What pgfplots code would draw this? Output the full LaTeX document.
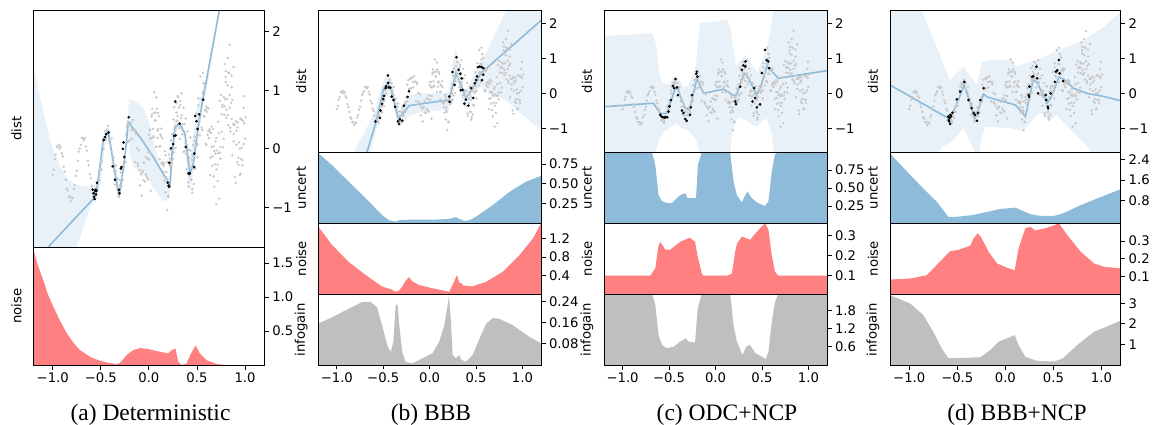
\documentclass[border=0pt]{standalone}
\usepackage{fontspec}
\setmainfont{DejaVu Sans}
\newfontfamily\capfont{Liberation Serif}
\usepackage{pgfplots}
\usepackage{pgfplotstable}
\pgfplotsset{compat=1.18}

\definecolor{bandc}{RGB}{233,241,248}
\definecolor{meanc}{RGB}{143,187,218}
\definecolor{uncc}{RGB}{143,187,218}
\definecolor{noisec}{RGB}{255,128,128}
\definecolor{infoc}{RGB}{191,191,191}
\definecolor{grayc}{RGB}{200,200,200}

\pgfplotsset{
  base/.style={scale only axis, xmin=-1.2, xmax=1.2, clip=true, axis on top,
    axis line style={line width=0.9pt},
    every tick/.style={black, line width=0.9pt},
    major tick length=4.5pt, tick align=outside,
    ytick pos=right, yticklabel pos=right, xtick=\empty,
    tick label style={font=\fontsize{13.2}{15}\selectfont},
    every axis y label/.style={at={(rel axis cs:0,0.5)}, xshift=-17pt, rotate=90, anchor=center,
      font=\fontsize{13.2}{15}\selectfont}},
  bottomx/.style={xtick={-1,-0.5,0,0.5,1}, xticklabels={−1.0,−0.5,0.0,0.5,1.0}, xtick pos=left, xticklabel pos=left},
  distax/.style={base, ymin=-1.68, ymax=2.37, ytick={-1,0,1,2}, yticklabels={−1,0,1,2}, ylabel={dist}},
  band/.style={fill=bandc, draw=none},
  meanl/.style={color=meanc, line width=1.6pt},
  train/.style={only marks, mark=*, mark size=1.1pt, black},
  test/.style={only marks, mark=*, mark size=1.0pt, color=grayc},
}

% test points shared by all four panels
\pgfplotstableread{
x y
-1.0000 -0.450
-0.9896 -0.358
-0.9792 -0.180
-0.9688 -0.098
-0.9583 0.037
-0.9479 0.028
-0.9375 0.071
-0.9271 0.002
-0.9167 0.038
-0.9063 -0.076
-0.8958 -0.127
-0.8854 -0.305
-0.8750 -0.389
-0.8646 -0.529
-0.8542 -0.683
-0.8438 -0.720
-0.8333 -0.821
-0.8229 -0.812
-0.8125 -0.897
-0.8021 -0.842
-0.7917 -0.844
-0.7813 -0.686
-0.7708 -0.616
-0.7604 -0.464
-0.7500 -0.378
-0.7396 -0.207
-0.7292 -0.049
-0.7188 0.005
-0.7083 0.068
-0.6979 0.186
-0.6875 0.184
-0.6771 0.144
-0.6667 0.180
-0.6563 0.043
-0.6458 -0.033
-0.6354 -0.208
-0.6250 -0.282
-0.6146 -0.435
-0.6042 -0.499
-0.5938 -0.634
-0.5833 -0.766
-0.5625 -0.742
-0.5545 -0.840
-0.5417 -0.638
-0.5337 -0.701
-0.5208 -0.389
-0.5128 -0.536
-0.5000 -0.228
-0.4920 -0.361
-0.4792 0.087
-0.4712 -0.004
-0.4583 0.301
-0.4503 0.154
-0.4375 0.328
-0.4295 0.293
-0.4167 0.145
-0.4087 0.292
-0.3958 0.055
-0.3878 0.181
-0.3750 -0.228
-0.3670 -0.151
-0.3542 -0.614
-0.3462 -0.289
-0.3333 -0.632
-0.3253 -0.515
-0.3125 -0.781
-0.3045 -0.625
-0.2917 -0.405
-0.2837 -0.639
-0.2708 -0.538
-0.2628 -0.265
-0.2500 -0.110
-0.2420 -0.227
-0.2292 0.384
-0.2212 0.111
-0.2083 0.407
-0.2003 0.147
-0.1875 0.445
-0.1795 0.328
-0.1667 0.491
-0.1587 0.335
-0.1458 -0.226
-0.1378 0.314
-0.1250 0.014
-0.1170 -0.246
-0.1042 -0.027
-0.0962 -0.367
-0.0833 -0.440
-0.0753 -0.800
-0.0625 -0.378
-0.0545 -0.538
-0.0417 -0.562
-0.0337 -0.142
-0.0208 -0.489
-0.0128 -0.169
-0.0070 -0.060
0.0000 0.240
0.0070 -0.185
0.0138 0.325
0.0208 -0.075
0.0278 0.550
0.0347 0.592
0.0417 0.342
0.0487 0.217
0.0555 0.968
0.0625 0.493
0.0695 0.618
0.0763 0.035
0.0833 0.685
0.0903 0.310
0.0972 0.337
0.1042 0.562
0.1112 0.037
0.1180 0.046
0.1250 0.221
0.1320 -0.254
0.1388 0.181
0.1458 -0.269
0.1528 -0.394
0.1597 -0.243
0.1667 -0.043
0.1737 -0.743
0.1805 -0.401
0.1875 -0.526
0.1945 -0.226
0.2013 -0.824
0.2083 -0.099
0.2153 -0.274
0.2222 -0.307
0.2292 0.143
0.2362 -0.207
0.2430 0.253
0.2500 -0.173
0.2570 0.503
0.2638 0.237
0.2708 0.387
0.2778 0.012
0.2847 0.779
0.2917 0.479
0.2987 0.904
0.3055 0.431
0.3125 0.706
0.3195 0.356
0.3263 0.748
0.3333 0.523
0.3403 0.948
0.3472 0.249
0.3542 0.424
0.3612 -0.051
0.3680 0.429
0.3750 0.039
0.3820 0.519
0.3888 -0.352
0.3958 0.068
0.4028 -0.082
0.4097 -0.646
0.4167 -0.016
0.4237 -0.286
0.4305 0.197
0.4375 -0.523
0.4445 -0.193
0.4513 -0.687
0.4583 0.063
0.4653 -0.327
0.4722 0.136
0.4792 -0.344
0.4862 0.016
0.4930 0.605
0.5000 0.065
0.5070 -0.145
0.5138 0.744
0.5208 0.504
0.5278 0.234
0.5347 1.237
0.5417 0.607
0.5487 0.847
0.5555 0.323
0.5625 0.833
0.5695 0.563
0.5763 1.016
0.5833 0.656
0.5903 0.086
0.5972 0.722
0.6042 0.632
0.6112 0.242
0.6180 0.691
0.6250 0.181
0.6320 0.331
0.6388 -0.449
0.6458 0.271
0.6528 0.031
0.6597 -0.293
0.6667 0.337
0.6737 -0.473
0.6805 -0.036
0.6875 -0.267
0.6945 0.129
0.7013 -0.355
0.7083 -0.025
0.7153 -0.553
0.7222 0.464
0.7292 0.266
0.7362 -0.064
0.7430 0.030
0.7500 0.921
0.7570 0.294
0.7638 0.719
0.7708 0.026
0.7778 0.884
0.7847 0.581
0.7917 0.845
0.7987 1.142
0.8055 0.526
0.8125 0.856
0.8195 1.087
0.8263 0.402
0.8333 1.293
0.8403 0.699
0.8472 0.360
0.8542 0.789
0.8612 1.053
0.8680 -0.111
0.8750 0.417
0.8820 0.252
0.8888 0.407
0.8958 -0.484
0.9028 0.473
0.9097 0.069
0.9167 -0.229
0.9237 0.366
0.9305 -0.154
0.9375 0.110
0.9445 -0.451
0.9513 0.516
0.9583 -0.177
0.9653 0.021
0.9722 -0.281
0.9792 0.478
0.9862 0.082
0.9930 0.902
1.0000 0.176
1.0070 0.539
0.8200 1.550
0.8400 1.780
0.7900 1.450
0.5600 1.300
0.5700 1.120
0.8000 1.330
0.8600 1.250
0.8800 1.400
0.7300 -0.850
0.7000 -0.950
0.4500 -0.750
0.1900 -1.050
0.0200 -0.720
-0.5521 -0.797
-0.5313 -0.519
-0.5104 -0.342
-0.4896 -0.205
-0.4688 0.196
-0.4479 0.257
-0.4271 0.393
-0.4063 0.091
-0.3854 -0.046
-0.3646 -0.382
-0.3438 -0.376
-0.3229 -0.807
-0.3021 -0.538
-0.2813 -0.491
-0.2604 -0.309
-0.2396 0.246
-0.2188 0.129
-0.1979 0.449
-0.1771 0.172
-0.1563 0.334
-0.1354 0.259
-0.1146 -0.292
-0.0938 -0.626
-0.0729 -0.406
-0.0521 -0.236
-0.0313 -0.438
-0.0104 -0.525
0.0064 0.325
0.0144 0.175
0.0273 0.183
0.0353 0.683
0.0481 0.196
0.0561 0.621
0.0689 0.481
0.0769 0.881
0.0898 0.186
0.0978 0.611
0.1106 -0.178
0.1186 0.247
0.1314 0.346
0.1394 -0.229
0.1523 -0.294
0.1603 -0.544
0.1731 -0.113
0.1811 -0.488
0.1939 -0.229
0.2019 -0.804
0.2148 -0.166
0.2228 -0.016
0.2356 -0.257
0.2436 -0.007
0.2564 -0.063
0.2644 0.712
0.2773 0.346
0.2853 0.621
0.2981 0.559
0.3061 0.884
0.3189 0.168
0.3269 0.818
0.3398 0.574
0.3478 0.324
0.3606 0.704
0.3686 -0.046
0.3814 0.093
0.3894 -0.087
0.4023 0.299
0.4103 -0.571
0.4231 -0.151
0.4311 -0.031
0.4439 -0.531
0.4519 -0.111
0.4648 -0.603
0.4728 0.207
0.4856 0.050
0.4936 0.200
0.5064 0.080
0.5144 0.860
0.5273 0.463
0.5353 0.583
0.5481 0.361
0.5561 0.961
0.5689 1.121
0.5769 0.551
0.5898 0.671
0.5978 0.071
0.6106 0.697
0.6186 0.307
0.6314 0.296
0.6394 -0.154
0.6523 0.381
0.6603 -0.129
0.6731 0.043
0.6811 -0.650
0.6939 -0.080
0.7019 0.184
0.7148 -0.272
0.7228 -0.074
0.7356 0.820
0.7436 -0.170
0.7564 0.594
0.7644 0.759
0.7773 0.168
0.7853 0.729
0.7981 1.230
0.8061 0.669
0.8189 0.579
0.8269 1.305
0.8398 0.922
0.8478 0.295
0.8606 0.509
0.8686 0.839
0.8814 0.127
0.8894 0.424
0.9023 -0.583
0.9103 0.308
0.9231 0.452
0.9311 -0.274
0.9439 0.000
0.9519 -0.429
0.9648 0.501
0.9728 -0.192
0.9856 0.702
0.9936 0.438
}\testdata

\begin{document}
\begin{tikzpicture}
\useasboundingbox (0pt,0pt) rectangle (1154pt,-425pt);

% ---------------- (a) Deterministic ----------------
\begin{axis}[distax, at={(33.5pt,-10.3pt)}, anchor=north west, width=230.8pt, height=236.7pt]
\addplot[band] coordinates {(-1.2,1.39) (-1.15,1.02) (-1.098,0.65) (-1.05,0.3) (-0.994,-0.03) (-0.92,-0.3) (-0.855,-0.49) (-0.78,-0.6) (-0.717,-0.63) (-0.62,-0.65) (-0.56,-0.62) (-0.54,-0.55) (-0.50,-0.3) (-0.475,0.2) (-0.44,0.36) (-0.42,0.35) (-0.39,0.1) (-0.35,-0.45) (-0.31,-0.68) (-0.27,-0.3) (-0.245,0.0) (-0.225,0.45) (-0.204,0.85) (-0.15,0.82) (-0.059,0.71) (0.0,0.45) (0.045,0.14) (0.1,-0.2) (0.149,-0.43) (0.2,-0.52) (0.22,-0.45) (0.24,0.0) (0.265,0.5) (0.3,0.5) (0.323,0.46) (0.37,0.3) (0.41,-0.15) (0.43,-0.2) (0.46,0.2) (0.496,0.71) (0.55,0.94) (0.6,1.25) (0.73,2.4) (0.8,3.2)
 (0.8,3.0) (0.73,2.3) (0.6,1.0) (0.565,0.8) (0.52,0.3) (0.5,0.1) (0.47,-0.3) (0.44,-0.6) (0.427,-0.74) (0.40,-0.5) (0.37,0.15) (0.33,0.38) (0.29,0.3) (0.26,0.0) (0.24,-0.4) (0.22,-0.75) (0.18,-0.9) (0.149,-0.88) (0.08,-0.75) (0.0,-0.54) (-0.08,-0.42) (-0.163,-0.31) (-0.2,-0.1) (-0.215,0.3) (-0.23,0.1) (-0.26,-0.35) (-0.3,-0.82) (-0.318,-0.85) (-0.35,-0.62) (-0.40,0.05) (-0.43,0.2) (-0.46,0.05) (-0.5,-0.6) (-0.54,-0.8) (-0.56,-0.85) (-0.613,-1.0) (-0.68,-1.35) (-0.75,-1.68) (-0.8,-2.0) (-1.2,-3.0)};
\addplot[test] table {\testdata};
\addplot[meanl] coordinates {(-1.2,-1.95) (-0.578,-0.855) (-0.543,-0.71) (-0.509,-0.3) (-0.474,0.17) (-0.422,0.28) (-0.318,-0.74) (-0.31,-0.79) (-0.29,-0.6) (-0.249,-0.14) (-0.215,0.455) (-0.093,0.2) (0.045,-0.14) (0.201,-0.57) (0.22,-0.62) (0.237,-0.14) (0.271,0.37) (0.323,0.43) (0.375,0.26) (0.427,-0.43) (0.461,-0.26) (0.513,0.37) (0.565,0.88) (0.8,2.97)};
\addplot[train] coordinates {(-0.585,-0.70) (-0.575,-0.76) (-0.57,-0.82) (-0.565,-0.86) (-0.56,-0.72) (-0.553,-0.70) (-0.55,-0.78) (-0.545,-0.72) (-0.54,-0.58) (-0.47,0.15) (-0.455,0.20) (-0.445,0.25) (-0.42,0.28) (-0.377,-0.30) (-0.353,-0.53) (-0.31,-0.70) (-0.305,-0.76) (-0.292,-0.34) (-0.285,-0.31) (-0.271,0.0) (-0.264,0.11) (-0.257,-0.14) (-0.21,0.54) (0.195,-0.58) (0.205,-0.63) (0.209,-0.65) (0.212,-0.24) (0.229,0.01) (0.253,0.08) (0.26,0.22) (0.274,0.81) (0.278,0.23) (0.32,0.43) (0.385,0.03) (0.412,-0.42) (0.418,-0.43) (0.426,-0.42) (0.471,-0.31) (0.471,-0.08) (0.482,0.56) (0.495,0.47) (0.506,0.34) (0.523,0.59) (0.565,0.84)};
\end{axis}
\begin{axis}[base, bottomx, at={(33.5pt,-247pt)}, anchor=north west, width=230.8pt, height=118pt,
  ymin=0, ymax=1.74, ytick={0.5,1,1.5}, yticklabels={0.5,1.0,1.5}, ylabel={noise}]
\addplot[fill=noisec, draw=none] coordinates {(-1.2,-1) (-1.2,1.69) (-1.15,1.45) (-1.098,1.25) (-1.05,1.04) (-0.994,0.86) (-0.92,0.64) (-0.855,0.47) (-0.78,0.32) (-0.717,0.22) (-0.6,0.11) (-0.509,0.063) (-0.42,0.03) (-0.335,0.015) (-0.3,0.03) (-0.26,0.1) (-0.232,0.147) (-0.163,0.22) (-0.093,0.25) (-0.024,0.24) (0.081,0.206) (0.201,0.17) (0.237,0.22) (0.278,0.24) (0.29,0.15) (0.305,0.05) (0.34,0.0) (0.39,0.02) (0.43,0.147) (0.486,0.29) (0.53,0.17) (0.6,0.07) (0.704,0.015) (0.8,0.0) (1.2,0.0) (1.2,-1)};
\end{axis}

% ---------------- (b) BBB ----------------
\begin{axis}[distax, at={(318.3pt,-10.3pt)}, anchor=north west, width=222.7pt, height=142pt]
\addplot[band] coordinates {(-0.9,-2.2) (-0.82,-1.67) (-0.7,-1.1) (-0.584,-0.47) (-0.52,0.2) (-0.458,0.63) (-0.42,0.45) (-0.36,-0.3) (-0.33,-0.5) (-0.29,-0.3) (-0.223,-0.05) (-0.1,0.0) (0.0,0.0) (0.15,0.0) (0.211,0.05) (0.25,0.9) (0.283,1.34) (0.31,0.8) (0.36,0.1) (0.39,0.05) (0.45,0.4) (0.5,0.65) (0.555,0.87) (0.65,1.4) (0.75,1.95) (0.826,2.39) (0.9,2.8) (1.2,4.5)
 (1.2,-1.05) (1.115,-0.85) (0.935,-0.47) (0.85,-0.25) (0.753,-0.1) (0.65,-0.05) (0.555,0.2) (0.5,0.1) (0.45,-0.1) (0.39,-0.35) (0.36,-0.35) (0.31,0.3) (0.283,0.3) (0.25,0.0) (0.211,-0.45) (0.1,-0.5) (0.0,-0.5) (-0.1,-0.55) (-0.223,-0.65) (-0.3,-0.9) (-0.339,-0.95) (-0.38,-0.5) (-0.42,0.0) (-0.458,-0.05) (-0.494,-0.2) (-0.52,-0.55) (-0.577,-1.05) (-0.638,-1.67) (-0.7,-2.3)};
\addplot[test] table {\testdata};
\addplot[meanl] coordinates {(-0.75,-2.3) (-0.675,-1.67) (-0.577,-0.8) (-0.494,0.15) (-0.458,0.25) (-0.421,0.18) (-0.339,-0.7) (-0.296,-0.61) (-0.223,-0.35) (0.211,-0.18) (0.283,0.58) (0.392,-0.13) (0.482,0.22) (0.555,0.58) (1.2,2.08)};
\addplot[train] coordinates {(-0.584,-0.80) (-0.537,-0.70) (-0.53,-0.49) (-0.512,-0.30) (-0.50,-0.16) (-0.49,-0.07) (-0.475,0.15) (-0.47,0.20) (-0.45,0.51) (-0.447,0.30) (-0.44,0.17) (-0.425,0.16) (-0.41,-0.09) (-0.39,-0.19) (-0.374,-0.38) (-0.342,-0.80) (-0.33,-0.87) (-0.32,-0.74) (-0.296,-0.78) (-0.277,-0.35) (-0.237,-0.10) (-0.223,0.06) (0.211,-0.09) (0.215,-0.24) (0.247,0.61) (0.269,0.24) (0.29,1.03) (0.312,0.67) (0.33,0.56) (0.334,0.09) (0.345,0.43) (0.355,0.10) (0.374,-0.29) (0.39,-0.18) (0.417,-0.35) (0.447,0.15) (0.47,-0.13) (0.486,0.29) (0.5,0.38) (0.51,0.48) (0.522,0.75) (0.54,0.77) (0.56,0.75) (0.578,0.72) (0.578,0.53) (0.565,0.38)};
\end{axis}
\begin{axis}[base, at={(318.3pt,-152.3pt)}, anchor=north west, width=222.7pt, height=71pt,
  ymin=0, ymax=0.9, ytick={0.25,0.5,0.75}, yticklabels={0.25,0.50,0.75}, ylabel={uncert}]
\addplot[fill=uncc, draw=none] coordinates {(-1.2,-1) (-1.2,0.89) (-1.055,0.74) (-0.874,0.53) (-0.692,0.32) (-0.512,0.105) (-0.44,0.04) (-0.367,0.02) (-0.33,0.04) (-0.22,0.045) (0.03,0.045) (0.211,0.055) (0.283,0.08) (0.32,0.055) (0.374,0.03) (0.43,0.04) (0.5,0.085) (0.68,0.23) (0.862,0.40) (1.043,0.53) (1.2,0.60) (1.2,-1)};
\end{axis}
\begin{axis}[base, at={(318.3pt,-223.3pt)}, anchor=north west, width=222.7pt, height=71pt,
  ymin=0, ymax=1.53, ytick={0.4,0.8,1.2}, yticklabels={0.4,0.8,1.2}, ylabel={noise}]
\addplot[fill=noisec, draw=none] coordinates {(-1.2,-1) (-1.2,1.46) (-1.055,1.07) (-0.874,0.70) (-0.692,0.42) (-0.512,0.165) (-0.42,0.11) (-0.367,0.056) (-0.33,0.08) (-0.296,0.165) (-0.259,0.29) (-0.223,0.37) (-0.187,0.28) (-0.114,0.20) (0.03,0.13) (0.211,0.056) (0.247,0.2) (0.295,0.42) (0.32,0.24) (0.34,0.25) (0.36,0.19) (0.46,0.17) (0.61,0.27) (0.79,0.49) (0.97,0.85) (1.115,1.21) (1.2,1.53) (1.2,-1)};
\end{axis}
\begin{axis}[base, bottomx, at={(318.3pt,-294.3pt)}, anchor=north west, width=222.7pt, height=70.7pt,
  ymin=0, ymax=0.268, ytick={0.08,0.16,0.24}, yticklabels={0.08,0.16,0.24}, ylabel={infogain}]
\addplot[fill=infoc, draw=none] coordinates {(-1.2,-1) (-1.2,0.157) (-1.055,0.18) (-0.874,0.213) (-0.73,0.238) (-0.64,0.24) (-0.567,0.219) (-0.512,0.15) (-0.458,0.075) (-0.42,0.048) (-0.39,0.09) (-0.367,0.225) (-0.345,0.23) (-0.33,0.16) (-0.296,0.05) (-0.259,0.012) (-0.187,0.006) (-0.078,0.025) (0.03,0.044) (0.103,0.088) (0.157,0.15) (0.193,0.225) (0.208,0.262) (0.23,0.163) (0.247,0.038) (0.283,0.025) (0.32,0.038) (0.34,0.02) (0.39,0.012) (0.464,0.038) (0.537,0.1) (0.61,0.157) (0.68,0.178) (0.753,0.175) (0.898,0.15) (1.079,0.106) (1.2,0.082) (1.2,-1)};
\end{axis}

% ---------------- (c) ODC+NCP ----------------
\begin{axis}[distax, at={(604pt,-10.3pt)}, anchor=north west, width=223pt, height=142pt]
\addplot[band] coordinates {(-1.2,1.64) (-0.9,1.68) (-0.684,1.72) (-0.65,1.5) (-0.63,1.24) (-0.6,0.5) (-0.576,0.3) (-0.5,0.25) (-0.45,0.5) (-0.4,0.45) (-0.35,0.2) (-0.3,0.2) (-0.25,0.5) (-0.21,0.8) (-0.19,1.5) (-0.164,2.0) (0.0,2.05) (0.123,2.1) (0.16,1.9) (0.194,1.24) (0.22,0.8) (0.28,0.95) (0.32,1.1) (0.4,0.8) (0.45,0.6) (0.5,0.95) (0.55,1.3) (0.59,1.8) (0.624,2.4) (1.2,2.4)
 (1.2,-1.8) (0.64,-1.8) (0.62,-1.5) (0.6,-1.1) (0.55,-0.7) (0.5,-0.8) (0.45,-0.95) (0.4,-0.9) (0.32,-0.75) (0.25,-0.7) (0.2,-0.9) (0.17,-1.3) (0.16,-1.8) (-0.164,-1.8) (-0.19,-1.5) (-0.21,-1.3) (-0.3,-1.05) (-0.36,-1.0) (-0.43,-0.85) (-0.5,-1.0) (-0.56,-1.1) (-0.6,-1.3) (-0.63,-1.5) (-0.65,-1.8) (-1.2,-1.8)};
\addplot[test] table {\testdata};
\addplot[meanl] coordinates {(-1.2,-0.38) (-0.667,-0.28) (-0.595,-0.57) (-0.523,-0.57) (-0.433,0.15) (-0.405,0.19) (-0.38,-0.09) (-0.326,-0.42) (-0.283,-0.47) (-0.254,-0.19) (-0.2,0.43) (-0.129,0.0) (0.086,0.12) (0.219,-0.09) (0.308,0.58) (0.355,0.43) (0.445,-0.04) (0.48,0.15) (0.553,0.77) (0.61,0.62) (0.677,0.43) (1.2,0.65)};
\addplot[train] coordinates {(-0.595,-0.61) (-0.58,-0.66) (-0.565,-0.68) (-0.55,-0.69) (-0.535,-0.68) (-0.52,-0.68) (-0.505,-0.52) (-0.495,-0.37) (-0.48,-0.19) (-0.458,0.21) (-0.445,0.15) (-0.43,0.41) (-0.415,0.17) (-0.405,-0.05) (-0.361,-0.49) (-0.345,-0.56) (-0.326,-0.73) (-0.31,-0.78) (-0.275,-0.61) (-0.265,-0.40) (-0.254,-0.05) (-0.207,0.56) (-0.2,0.62) (-0.195,0.48) (0.212,-0.23) (0.22,-0.31) (0.266,0.19) (0.284,0.67) (0.30,0.80) (0.32,0.77) (0.323,0.91) (0.398,-0.23) (0.416,0.15) (0.427,-0.13) (0.445,-0.40) (0.48,-0.31) (0.499,0.58) (0.534,1.24) (0.55,0.95) (0.568,0.91) (0.578,0.72)};
\end{axis}
\begin{axis}[base, at={(604pt,-152.3pt)}, anchor=north west, width=223pt, height=71pt,
  ymin=0.01, ymax=0.996, ytick={0.25,0.5,0.75}, yticklabels={0.25,0.50,0.75}, ylabel={uncert}]
\addplot[fill=uncc, draw=none] coordinates {(-1.2,-1) (-1.2,1.0) (-0.684,1.0) (-0.648,0.82) (-0.613,0.40) (-0.577,0.32) (-0.523,0.29) (-0.47,0.29) (-0.415,0.36) (-0.38,0.40) (-0.326,0.43) (-0.30,0.36) (-0.21,0.36) (-0.19,0.82) (-0.147,1.0) (0.158,1.0) (0.194,0.59) (0.23,0.40) (0.284,0.30) (0.32,0.40) (0.344,0.45) (0.39,0.36) (0.445,0.30) (0.534,0.25) (0.57,0.32) (0.606,0.73) (0.64,0.97) (0.68,1.0) (1.2,1.0) (1.2,-1)};
\end{axis}
\begin{axis}[base, at={(604pt,-223.3pt)}, anchor=north west, width=223pt, height=71pt,
  ymin=0.007, ymax=0.362, ytick={0.1,0.2,0.3}, yticklabels={0.1,0.2,0.3}, ylabel={noise}]
\addplot[fill=noisec, draw=none] coordinates {(-1.2,-1) (-1.2,0.1) (-0.702,0.1) (-0.648,0.137) (-0.613,0.25) (-0.595,0.27) (-0.54,0.23) (-0.487,0.23) (-0.433,0.25) (-0.38,0.27) (-0.326,0.28) (-0.28,0.29) (-0.22,0.27) (-0.194,0.2) (-0.147,0.11) (-0.13,0.1) (0.123,0.1) (0.176,0.11) (0.212,0.22) (0.23,0.26) (0.284,0.295) (0.373,0.28) (0.427,0.31) (0.48,0.337) (0.534,0.362) (0.57,0.33) (0.606,0.20) (0.64,0.12) (0.677,0.1) (1.2,0.1) (1.2,-1)};
\end{axis}
\begin{axis}[base, bottomx, at={(604pt,-294.3pt)}, anchor=north west, width=223pt, height=70.7pt,
  ymin=-0.01, ymax=2.35, ytick={0.6,1.2,1.8}, yticklabels={0.6,1.2,1.8}, ylabel={infogain}]
\addplot[fill=infoc, draw=none] coordinates {(-1.2,-1) (-1.2,2.4) (-0.684,2.4) (-0.648,1.99) (-0.613,0.99) (-0.576,0.66) (-0.523,0.55) (-0.45,0.6) (-0.38,0.77) (-0.318,0.88) (-0.29,0.77) (-0.22,0.74) (-0.194,1.82) (-0.147,2.4) (0.158,2.4) (0.194,1.32) (0.23,0.77) (0.29,0.32) (0.33,0.6) (0.37,0.66) (0.43,0.38) (0.499,0.27) (0.54,0.18) (0.57,0.44) (0.606,1.43) (0.64,2.1) (0.68,2.4) (1.2,2.4) (1.2,-1)};
\end{axis}

% ---------------- (d) BBB+NCP ----------------
\begin{axis}[distax, at={(890pt,-10.3pt)}, anchor=north west, width=230.7pt, height=142pt]
\addplot[band] coordinates {(-1.2,2.5) (-0.889,2.5) (-0.8,1.9) (-0.714,1.33) (-0.64,0.8) (-0.575,0.38) (-0.5,0.6) (-0.436,0.76) (-0.366,0.5) (-0.296,0.26) (-0.244,0.9) (-0.157,0.95) (0.052,0.95) (0.122,0.76) (0.2,0.85) (0.33,0.95) (0.47,1.14) (0.644,1.33) (0.818,1.52) (1.027,1.9) (1.2,2.32)
 (1.2,-1.8) (0.92,-1.8) (0.853,-1.51) (0.679,-1.04) (0.53,-0.6) (0.46,-0.78) (0.365,-0.54) (0.295,-0.71) (0.19,-1.09) (0.052,-0.99) (-0.21,-0.95) (-0.25,-1.3) (-0.28,-1.8) (-0.3,-1.8) (-0.332,-1.56) (-0.436,-0.99) (-0.5,-1.2) (-0.575,-1.42) (-0.662,-1.51) (-0.714,-1.8) (-1.2,-1.8)};
\addplot[test] table {\testdata};
\addplot[meanl] coordinates {(-1.2,0.24) (-0.593,-0.71) (-0.56,-0.63) (-0.488,-0.19) (-0.429,0.24) (-0.366,-0.28) (-0.321,-0.71) (-0.3,-0.63) (-0.227,-0.02) (-0.19,-0.1) (0.104,-0.33) (0.209,-0.66) (0.289,0.38) (0.33,0.31) (0.435,-0.28) (0.47,-0.15) (0.557,0.46) (0.61,0.40) (0.713,0.14) (0.851,0.0) (1.027,-0.09) (1.2,-0.21)};
\addplot[train] coordinates {(-0.593,-0.66) (-0.59,-0.76) (-0.585,-0.80) (-0.574,-0.87) (-0.58,-0.70) (-0.565,-0.66) (-0.572,-0.61) (-0.55,-0.55) (-0.505,-0.17) (-0.47,0.05) (-0.426,0.33) (-0.384,-0.19) (-0.35,-0.42) (-0.33,-0.56) (-0.315,-0.61) (-0.296,-0.78) (-0.285,-0.56) (-0.26,-0.19) (-0.227,0.15) (0.243,-0.05) (0.247,-0.10) (0.25,0.19) (0.279,0.47) (0.29,0.49) (0.323,0.76) (0.33,0.43) (0.34,0.0) (0.418,-0.05) (0.425,-0.19) (0.442,-0.38) (0.445,-0.43) (0.47,0.0) (0.515,0.33) (0.525,0.62) (0.54,0.66) (0.557,0.95) (0.565,0.57) (0.6,0.35)};
\end{axis}
\begin{axis}[base, at={(890pt,-152.3pt)}, anchor=north west, width=230.7pt, height=71pt,
  ymin=-0.06, ymax=2.67, ytick={0.8,1.6,2.4}, yticklabels={0.8,1.6,2.4}, ylabel={uncert}]
\addplot[fill=uncc, draw=none] coordinates {(-1.2,-1) (-1.2,2.62) (-0.889,1.41) (-0.714,0.77) (-0.593,0.19) (-0.505,0.19) (-0.33,0.26) (-0.227,0.35) (-0.053,0.49) (0.104,0.54) (0.174,0.43) (0.26,0.29) (0.37,0.22) (0.51,0.23) (0.6,0.32) (0.749,0.58) (0.958,0.90) (1.2,1.25) (1.2,-1)};
\end{axis}
\begin{axis}[base, at={(890pt,-223.3pt)}, anchor=north west, width=230.7pt, height=71pt,
  ymin=0, ymax=0.4, ytick={0.1,0.2,0.3}, yticklabels={0.1,0.2,0.3}, ylabel={noise}]
\addplot[fill=noisec, draw=none] coordinates {(-1.2,-1) (-1.2,0.083) (-0.99,0.089) (-0.82,0.107) (-0.714,0.165) (-0.575,0.243) (-0.49,0.25) (-0.366,0.274) (-0.33,0.315) (-0.29,0.343) (-0.255,0.325) (-0.175,0.24) (-0.087,0.174) (0.017,0.15) (0.097,0.136) (0.138,0.26) (0.208,0.372) (0.26,0.38) (0.313,0.36) (0.4,0.37) (0.487,0.384) (0.557,0.4) (0.644,0.334) (0.783,0.24) (0.922,0.174) (1.027,0.155) (1.2,0.146) (1.2,-1)};
\end{axis}
\begin{axis}[base, bottomx, at={(890pt,-294.3pt)}, anchor=north west, width=230.7pt, height=70.7pt,
  ymin=-0.01, ymax=3.44, ytick={1,2,3}, yticklabels={1,2,3}, ylabel={infogain}]
\addplot[fill=infoc, draw=none] coordinates {(-1.2,-1) (-1.2,3.40) (-0.993,3.0) (-0.854,2.43) (-0.75,1.61) (-0.662,0.80) (-0.593,0.32) (-0.366,0.35) (-0.261,0.37) (-0.157,0.72) (-0.07,1.13) (0.017,1.29) (0.097,1.45) (0.138,0.96) (0.208,0.39) (0.33,0.19) (0.51,0.16) (0.6,0.32) (0.749,0.97) (0.922,1.61) (1.2,2.15) (1.2,-1)};
\end{axis}

% captions
\node[anchor=base, font=\capfont\fontsize{23.5}{26}\selectfont] at (150.5pt,-420pt) {(a) Deterministic};
\node[anchor=base, font=\capfont\fontsize{23.5}{26}\selectfont] at (431pt,-420pt) {(b) BBB};
\node[anchor=base, font=\capfont\fontsize{23.5}{26}\selectfont] at (727pt,-420pt) {(c) ODC+NCP};
\node[anchor=base, font=\capfont\fontsize{23.5}{26}\selectfont] at (1017pt,-420pt) {(d) BBB+NCP};
\end{tikzpicture}
\end{document}
